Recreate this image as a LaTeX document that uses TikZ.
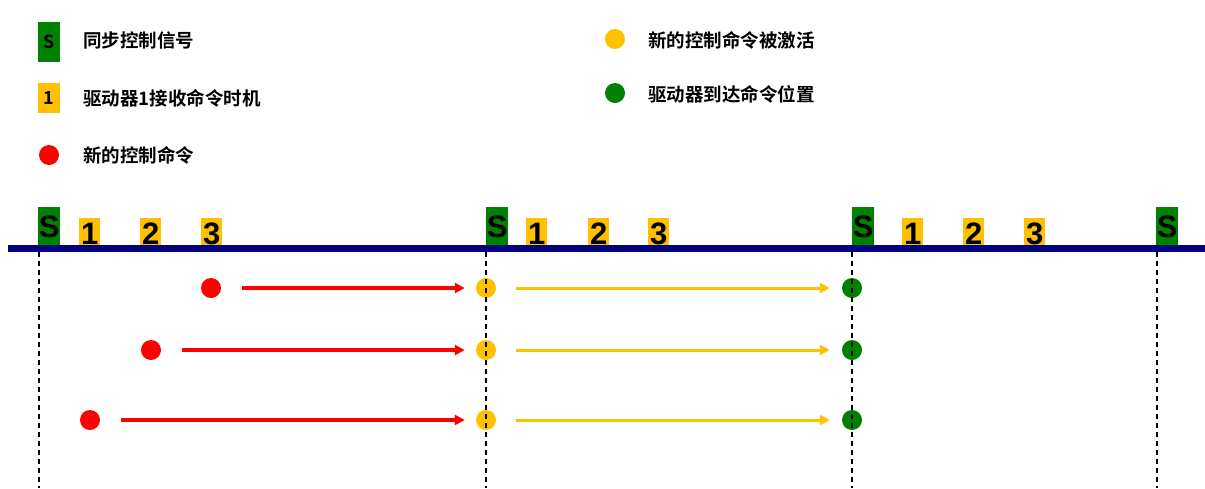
\documentclass[tikz,border=0pt]{standalone}
\usepackage{fontspec}
\setmainfont{Liberation Sans}
\newfontfamily\cjk{Noto Sans CJK SC Bold}
\usetikzlibrary{arrows.meta}
\definecolor{sgreen}{RGB}{0,128,0}
\definecolor{syellow}{RGB}{255,192,0}
\definecolor{sred}{RGB}{255,0,0}
\definecolor{snavy}{RGB}{0,0,128}
\begin{document}
\begin{tikzpicture}[x=1pt,y=-1pt,
  syncbox/.style={fill=sgreen, minimum width=22pt, minimum height=40pt, inner sep=0pt, anchor=north west, font=\fontsize{31}{31}\selectfont\bfseries},
  numbox/.style={fill=syellow, minimum width=21pt, minimum height=31pt, inner sep=0pt, anchor=north west, font=\fontsize{31}{31}\selectfont\bfseries},
  legsync/.style={fill=sgreen, minimum width=22pt, minimum height=40pt, inner sep=0pt, anchor=north west, font=\cjk\fontsize{18}{18}\selectfont},
  legnum/.style={fill=syellow, minimum width=22pt, minimum height=30pt, inner sep=0pt, anchor=north west, font=\cjk\fontsize{18}{18}\selectfont},
  dot/.style={circle, minimum size=20pt, inner sep=0pt},
  legtext/.style={anchor=west, inner sep=0pt, font=\cjk\fontsize{18.5}{20}\selectfont},
  redarrow/.style={draw=sred, line width=3.2pt, -{Triangle[length=10pt,width=10pt]}, shorten <=21pt, shorten >=11pt},
  yelarrow/.style={draw=syellow, line width=3pt, -{Triangle[length=10pt,width=10pt]}, shorten <=20pt, shorten >=12pt},
  timeline/.style={draw=snavy, line width=6.5pt},
  dashline/.style={draw=black, line width=1.3pt, dash pattern=on 5pt off 4pt}
]
\useasboundingbox (0,0) rectangle (1205,488);

% legend
\node[legsync] (ls) at (38,22) {S};
\node[legtext] (lt1) at (83,40) {同步控制信号};
\node[legnum] (ln) at (38,83) {1};
\node[legtext] (lt2) at (83,98) {驱动器1接收命令时机};
\node[dot, fill=sred] (lr) at (49,155) {};
\node[legtext] (lt3) at (83,155) {新的控制命令};
\node[dot, fill=syellow] (ly) at (615,39) {};
\node[legtext] (lt4) at (648,40) {新的控制命令被激活};
\node[dot, fill=sgreen] (lg) at (615,93) {};
\node[legtext] (lt5) at (648,94) {驱动器到达命令位置};

% sync boxes
\node[syncbox] (s1) at (38,207) {S};
\node[syncbox] (s2) at (486,207) {S};
\node[syncbox] (s3) at (852,207) {S};
\node[syncbox] (s4) at (1156,207) {S};

% number boxes
\node[numbox] (a1) at (79,218) {1};
\node[numbox] (a2) at (140,218) {2};
\node[numbox] (a3) at (201,218) {3};
\node[numbox] (b1) at (526,218) {1};
\node[numbox] (b2) at (588,218) {2};
\node[numbox] (b3) at (648,218) {3};
\node[numbox] (c1) at (902,218) {1};
\node[numbox] (c2) at (963,218) {2};
\node[numbox] (c3) at (1024,218) {3};

% timeline
\coordinate (L0) at (8,248.5);
\coordinate (L1) at (1205,248.5);
\draw[timeline] (L0) -- (L1);

% dots
\node[dot, fill=sred] (r1) at (211,288) {};
\node[dot, fill=sred] (r2) at (151,350) {};
\node[dot, fill=sred] (r3) at (90,420) {};
\node[dot, fill=syellow] (y1) at (486,288) {};
\node[dot, fill=syellow] (y2) at (486,350) {};
\node[dot, fill=syellow] (y3) at (486,420) {};
\node[dot, fill=sgreen] (g1) at (852,288) {};
\node[dot, fill=sgreen] (g2) at (852,350) {};
\node[dot, fill=sgreen] (g3) at (852,420) {};

% arrows
\draw[redarrow] (r1) -- (y1);
\draw[redarrow] (r2) -- (y2);
\draw[redarrow] (r3) -- (y3);
\draw[yelarrow] (y1) -- (g1);
\draw[yelarrow] (y2) -- (g2);
\draw[yelarrow] (y3) -- (g3);

% dashed sync lines
\coordinate (d1t) at (39,252);   \coordinate (d1b) at (39,488);
\coordinate (d2t) at (486,252);  \coordinate (d2b) at (486,488);
\coordinate (d3t) at (852,252);  \coordinate (d3b) at (852,488);
\coordinate (d4t) at (1157,252); \coordinate (d4b) at (1157,488);
\draw[dashline] (d1t) -- (d1b);
\draw[dashline] (d2t) -- (d2b);
\draw[dashline] (d3t) -- (d3b);
\draw[dashline] (d4t) -- (d4b);
\end{tikzpicture}
\end{document}
